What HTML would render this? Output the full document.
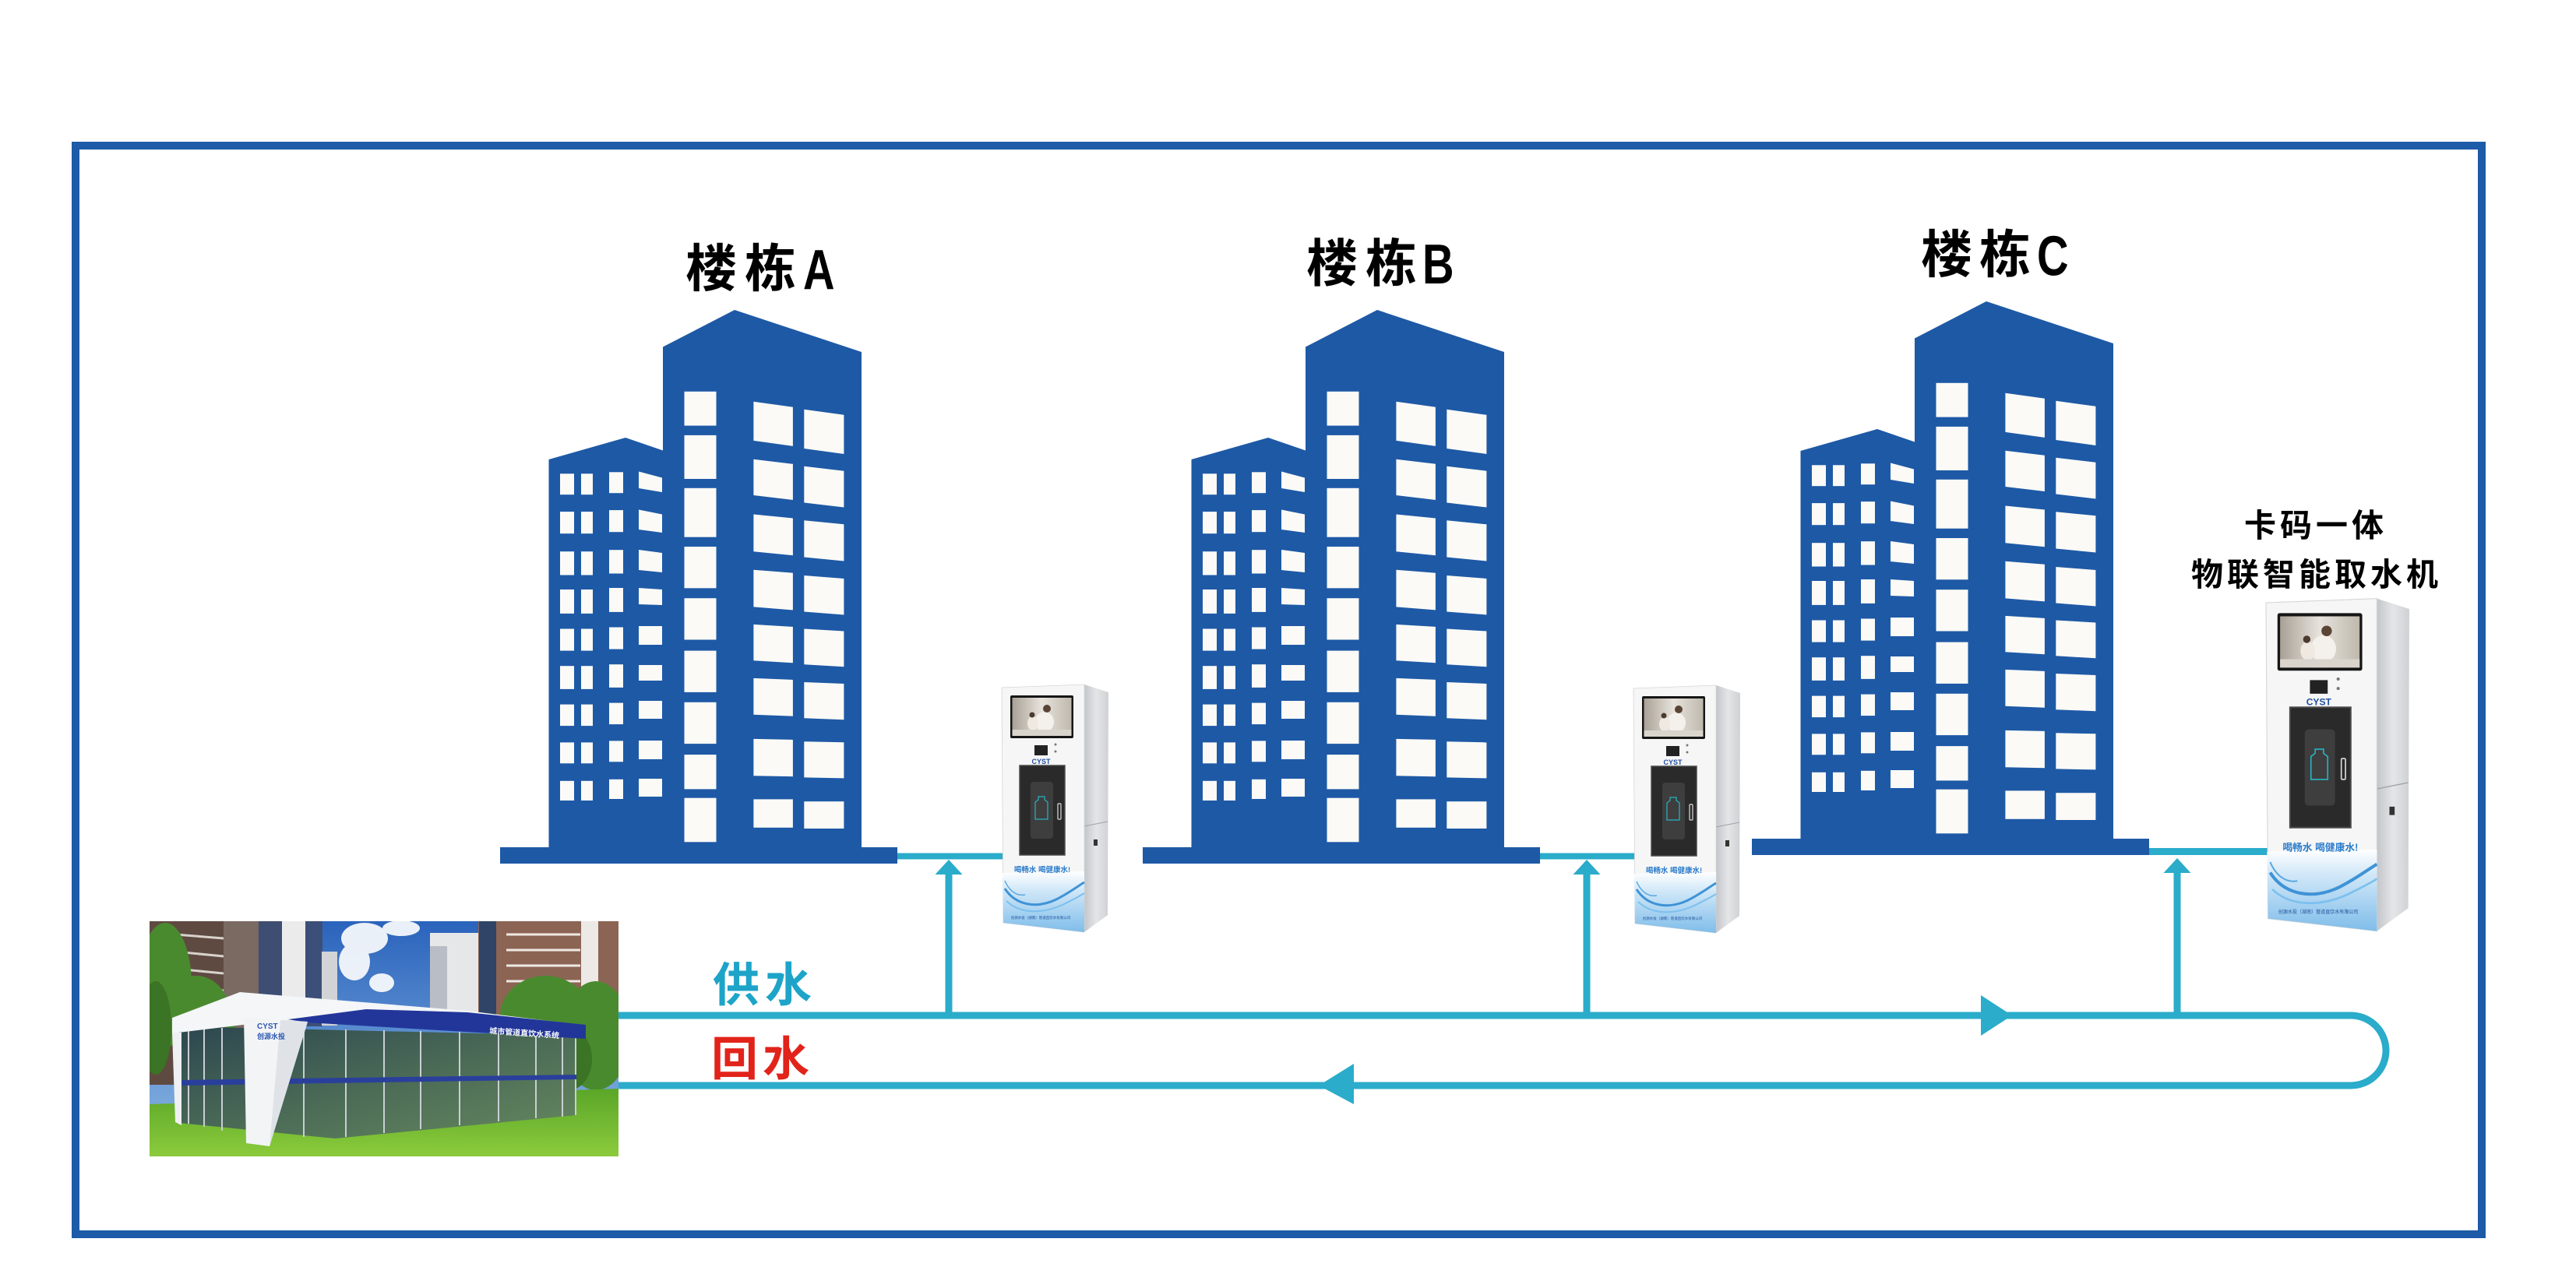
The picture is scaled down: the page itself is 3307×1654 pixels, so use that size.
<!DOCTYPE html>
<html>
<head>
<meta charset="utf-8">
<style>
html,body{margin:0;padding:0;background:#ffffff;}
svg{display:block;}
text{font-family:"Liberation Sans","Noto Sans CJK SC",sans-serif;}
.cjk{font-family:"Noto Sans CJK SC","WenQuanYi Zen Hei",sans-serif;}
</style>
</head>
<body>
<svg width="3307" height="1654" viewBox="0 0 3307 1654" xmlns="http://www.w3.org/2000/svg" xmlns:xlink="http://www.w3.org/1999/xlink">
<defs>
  <linearGradient id="side" x1="0" y1="0" x2="1" y2="0">
    <stop offset="0" stop-color="#c3c6ca"/>
    <stop offset="0.5" stop-color="#e4e5e7"/>
    <stop offset="1" stop-color="#cfd1d4"/>
  </linearGradient>
  <linearGradient id="water" x1="0" y1="0" x2="0" y2="1">
    <stop offset="0" stop-color="#ffffff"/>
    <stop offset="0.3" stop-color="#d2e8f8"/>
    <stop offset="1" stop-color="#7fbdea"/>
  </linearGradient>
  <linearGradient id="scr" x1="0" y1="0" x2="1" y2="0">
    <stop offset="0" stop-color="#a9a196"/>
    <stop offset="0.5" stop-color="#e7e3dc"/>
    <stop offset="1" stop-color="#bfb9ad"/>
  </linearGradient>
  <linearGradient id="sky" x1="0" y1="0" x2="0" y2="1">
    <stop offset="0" stop-color="#2a63bc"/>
    <stop offset="1" stop-color="#8fbbe4"/>
  </linearGradient>
  <linearGradient id="grass" x1="0" y1="0" x2="0" y2="1">
    <stop offset="0" stop-color="#5aa628"/>
    <stop offset="1" stop-color="#8ccb3c"/>
  </linearGradient>
  <linearGradient id="glass" x1="0" y1="0" x2="1" y2="1">
    <stop offset="0" stop-color="#2c4650"/>
    <stop offset="0.5" stop-color="#4a6a56"/>
    <stop offset="1" stop-color="#66885e"/>
  </linearGradient>
  <clipPath id="photoclip"><rect x="192" y="1183" width="602" height="302"/></clipPath>

  <g id="bld">
    <g fill="#1e59a6">
      <polygon points="704.5,1089 704.5,590 803,562 851,578.5 851,1089"/>
      <polygon points="851,1089 851,445.5 943,398 1106,452 1106,1089"/>
      <rect x="642" y="1088" width="510" height="21"/>
    </g>
    <g fill="#fbfaf6">
      <rect x="878.5" y="502.8" width="41" height="43.8"/>
      <rect x="878.5" y="558.9" width="41" height="56.1"/>
      <rect x="878.5" y="626.8" width="41" height="62.9"/>
      <rect x="878.5" y="702" width="41" height="53.3"/>
      <rect x="878.5" y="768.2" width="41" height="53.3"/>
      <rect x="878.5" y="835.6" width="41" height="53.3"/>
      <rect x="878.5" y="901.8" width="41" height="53.3"/>
      <rect x="878.5" y="969.1" width="41" height="44.3"/>
      <rect x="878.5" y="1024.7" width="41" height="56.6"/>
      <polygon points="967.4,515.7 1017.9,522.7 1017.9,572.9 967.4,565.9"/>
      <polygon points="967.4,589.8 1017.9,595.8 1017.9,642 967.4,636"/>
      <polygon points="967.4,660.5 1017.9,665.5 1017.9,713.2 967.4,708.2"/>
      <polygon points="967.4,731.7 1017.9,735.7 1017.9,783.4 967.4,779.4"/>
      <polygon points="967.4,801.9 1017.9,804.9 1017.9,851.3 967.4,848.3"/>
      <polygon points="967.4,870.9 1017.9,872.9 1017.9,919.7 967.4,917.7"/>
      <polygon points="967.4,948.9 1017.9,949.9 1017.9,997.2 967.4,996.2"/>
      <rect x="967.4" y="1026.4" width="50.5" height="36.4"/>
      <polygon points="1032.3,525.8 1083.4,532.8 1083.4,583 1032.3,576"/>
      <polygon points="1032.3,598.7 1083.4,604.7 1083.4,651.5 1032.3,645.5"/>
      <polygon points="1032.3,668.3 1083.4,673.3 1083.4,720.5 1032.3,715.5"/>
      <polygon points="1032.3,739 1083.4,743 1083.4,789.5 1032.3,785.5"/>
      <polygon points="1032.3,807.5 1083.4,810.5 1083.4,856.3 1032.3,853.3"/>
      <polygon points="1032.3,876 1083.4,878 1083.4,924.2 1032.3,922.2"/>
      <polygon points="1032.3,952.3 1083.4,953.3 1083.4,999.4 1032.3,998.4"/>
      <rect x="1032.3" y="1029.2" width="51.1" height="34.8"/>
      <rect x="719" y="608.3" width="18" height="26.9"/>
      <rect x="746" y="608.3" width="15" height="26.9"/>
      <rect x="782" y="606.3" width="18" height="26.9"/>
      <polygon points="820,605.5 850,613.5 850,632 820,627"/>
      <rect x="719" y="657.1" width="18" height="28.1"/>
      <rect x="746" y="657.1" width="15" height="28.1"/>
      <rect x="782" y="655.1" width="18" height="28.1"/>
      <polygon points="820,654.5 850,660.5 850,684 820,680"/>
      <rect x="719" y="708.2" width="18" height="30.3"/>
      <rect x="746" y="708.2" width="15" height="30.3"/>
      <rect x="782" y="706.2" width="18" height="30.3"/>
      <polygon points="820,706 850,710 850,735 820,732"/>
      <rect x="719" y="757" width="18" height="30.9"/>
      <rect x="746" y="757" width="15" height="30.9"/>
      <rect x="782" y="755" width="18" height="30.9"/>
      <polygon points="820,755 850,757 850,777 820,776"/>
      <rect x="719" y="807.5" width="18" height="28.1"/>
      <rect x="746" y="807.5" width="15" height="28.1"/>
      <rect x="782" y="805.5" width="18" height="28.1"/>
      <rect x="820" y="804" width="30" height="24"/>
      <rect x="719" y="855.2" width="18" height="29.7"/>
      <rect x="746" y="855.2" width="15" height="29.7"/>
      <rect x="782" y="853.2" width="18" height="29.7"/>
      <rect x="820" y="854" width="30" height="20"/>
      <rect x="719" y="904.6" width="18" height="27.5"/>
      <rect x="746" y="904.6" width="15" height="27.5"/>
      <rect x="782" y="902.6" width="18" height="27.5"/>
      <rect x="820" y="900" width="30" height="23"/>
      <rect x="719" y="953.4" width="18" height="26.9"/>
      <rect x="746" y="953.4" width="15" height="26.9"/>
      <rect x="782" y="951.4" width="18" height="26.9"/>
      <rect x="820" y="951" width="30" height="24"/>
      <rect x="719" y="1002.8" width="18" height="25.2"/>
      <rect x="746" y="1002.8" width="15" height="25.2"/>
      <rect x="782" y="1000.8" width="18" height="25.2"/>
      <rect x="820" y="1000" width="30" height="23"/>
    </g>
  </g>
</defs>

<rect x="97" y="187" width="3089" height="1398" fill="none" stroke="#1d5aa7" stroke-width="10"/>

<g fill="#2aacca">
  <rect x="1150" y="1095.5" width="140" height="8"/>
  <rect x="1975" y="1095.5" width="125" height="8"/>
  <rect x="2758" y="1089" width="156" height="9"/>
  <rect x="1213.5" y="1120" width="9" height="186"/>
  <rect x="2032.5" y="1120" width="9" height="186"/>
  <rect x="2790.5" y="1118" width="9" height="188"/>
  <polygon points="1218,1104 1200.5,1123 1235.5,1123"/>
  <polygon points="2037,1104 2019.5,1123 2054.5,1123"/>
  <polygon points="2795,1102 2777.5,1121 2812.5,1121"/>
  <polygon points="2543,1278 2543,1330 2583,1304"/>
  <polygon points="1738,1366 1738,1418 1693,1394"/>
</g>
<path d="M794,1304 H3018 A45,45 0 0 1 3018,1394 H794" fill="none" stroke="#2aacca" stroke-width="9"/>

<use xlink:href="#bld" href="#bld"/>
<use xlink:href="#bld" href="#bld" transform="translate(825,0)"/>
<use xlink:href="#bld" href="#bld" transform="translate(1607,-11)"/>

<g fill="#000" font-weight="700">
  <text class="cjk" x="880" y="368" font-size="66">楼</text>
  <text class="cjk" x="956" y="368" font-size="66">栋</text>
  <text transform="translate(1031,371) scale(0.78,1)" font-size="72" font-family="Liberation Sans, sans-serif">A</text>
  <text class="cjk" x="1677" y="361.5" font-size="66">楼</text>
  <text class="cjk" x="1753" y="361.5" font-size="66">栋</text>
  <text transform="translate(1826,364) scale(0.78,1)" font-size="72" font-family="Liberation Sans, sans-serif">B</text>
  <text class="cjk" x="2466" y="350" font-size="66">楼</text>
  <text class="cjk" x="2541" y="350" font-size="66">栋</text>
  <text transform="translate(2615,353.5) scale(0.78,1)" font-size="72" font-family="Liberation Sans, sans-serif">C</text>
  <text class="cjk" x="2881" y="689" font-size="41" letter-spacing="5">卡码一体</text>
  <text class="cjk" x="2813" y="752" font-size="41" letter-spacing="5">物联智能取水机</text>
  <text class="cjk" x="915" y="1286" font-size="60" letter-spacing="7" fill="#1ea4c8">供水</text>
  <text class="cjk" x="913" y="1381" font-size="60" letter-spacing="6" fill="#e2231a">回水</text>
</g>

<g transform="translate(1286,883)">
  <polygon points="106,-4 137,6 136,292 106,314" fill="url(#side)"/>
  <line x1="106" y1="178" x2="136" y2="172" stroke="#9fa2a6" stroke-width="1"/>
  <rect x="118" y="195" width="5" height="8" fill="#333"/>
  <polygon points="0,0 106,-4 106,314 2,302" fill="#f6f6f6" stroke="#d6d6d6" stroke-width="0.8"/>
  <polygon points="1,238 106,236 106,314 2,302" fill="url(#water)"/>
  <path d="M4,258 C18,280 45,284 70,272 C86,264 96,256 106,250" stroke="#3f93d6" stroke-width="3" fill="none"/>
  <path d="M6,274 C25,292 55,290 80,278 C92,272 100,268 106,264" stroke="#7cc0ee" stroke-width="2" fill="none"/>
  <path d="M4,248 C10,262 20,268 30,266" stroke="#5aa8e0" stroke-width="1.5" fill="none"/>
  <rect x="11" y="10" width="81" height="55" rx="2" fill="#161616"/>
  <rect x="13.5" y="13" width="76" height="49" fill="url(#scr)"/>
  <ellipse cx="55" cy="44" rx="12" ry="13" fill="#f4f1ec"/>
  <circle cx="58" cy="27" r="5" fill="#5a4436"/>
  <ellipse cx="40" cy="46" rx="7" ry="9" fill="#efe9e2"/>
  <circle cx="39" cy="35" r="3.5" fill="#4a3a30"/>
  <rect x="13.5" y="54" width="76" height="8" fill="#d9d4cc"/>
  <rect x="42" y="74" width="17" height="13" fill="#222"/>
  <circle cx="69" cy="73" r="1.5" fill="#777"/>
  <circle cx="69" cy="82" r="1.5" fill="#777"/>
  <text x="50.5" y="98" font-size="9" font-weight="700" fill="#1f4f9f" text-anchor="middle">CYST</text>
  <rect x="23" y="100" width="58" height="115" fill="#2a2a2a" stroke="#4a4a4a" stroke-width="1.5"/>
  <rect x="37" y="121" width="29" height="73" rx="4" fill="#3e3e3e"/>
  <path d="M47,140 h8 v4 l4,3 v22 h-16 v-22 l4,-3z" fill="none" stroke="#27b3c2" stroke-width="1.2"/>
  <rect x="72" y="149" width="4" height="20" rx="1" fill="none" stroke="#dddddd" stroke-width="1.2"/>
  <text x="52" y="237" font-size="9.5" font-weight="700" fill="#2a7ccc" text-anchor="middle">喝畅水 喝健康水!</text>
  <text x="50" y="297" font-size="4.5" fill="#1e4f9a" text-anchor="middle">创源水投（湖南）管道直饮水有限公司</text>
</g>
<g transform="translate(2097,884)">
  <polygon points="106,-4 137,6 136,292 106,314" fill="url(#side)"/>
  <line x1="106" y1="178" x2="136" y2="172" stroke="#9fa2a6" stroke-width="1"/>
  <rect x="118" y="195" width="5" height="8" fill="#333"/>
  <polygon points="0,0 106,-4 106,314 2,302" fill="#f6f6f6" stroke="#d6d6d6" stroke-width="0.8"/>
  <polygon points="1,238 106,236 106,314 2,302" fill="url(#water)"/>
  <path d="M4,258 C18,280 45,284 70,272 C86,264 96,256 106,250" stroke="#3f93d6" stroke-width="3" fill="none"/>
  <path d="M6,274 C25,292 55,290 80,278 C92,272 100,268 106,264" stroke="#7cc0ee" stroke-width="2" fill="none"/>
  <path d="M4,248 C10,262 20,268 30,266" stroke="#5aa8e0" stroke-width="1.5" fill="none"/>
  <rect x="11" y="10" width="81" height="55" rx="2" fill="#161616"/>
  <rect x="13.5" y="13" width="76" height="49" fill="url(#scr)"/>
  <ellipse cx="55" cy="44" rx="12" ry="13" fill="#f4f1ec"/>
  <circle cx="58" cy="27" r="5" fill="#5a4436"/>
  <ellipse cx="40" cy="46" rx="7" ry="9" fill="#efe9e2"/>
  <circle cx="39" cy="35" r="3.5" fill="#4a3a30"/>
  <rect x="13.5" y="54" width="76" height="8" fill="#d9d4cc"/>
  <rect x="42" y="74" width="17" height="13" fill="#222"/>
  <circle cx="69" cy="73" r="1.5" fill="#777"/>
  <circle cx="69" cy="82" r="1.5" fill="#777"/>
  <text x="50.5" y="98" font-size="9" font-weight="700" fill="#1f4f9f" text-anchor="middle">CYST</text>
  <rect x="23" y="100" width="58" height="115" fill="#2a2a2a" stroke="#4a4a4a" stroke-width="1.5"/>
  <rect x="37" y="121" width="29" height="73" rx="4" fill="#3e3e3e"/>
  <path d="M47,140 h8 v4 l4,3 v22 h-16 v-22 l4,-3z" fill="none" stroke="#27b3c2" stroke-width="1.2"/>
  <rect x="72" y="149" width="4" height="20" rx="1" fill="none" stroke="#dddddd" stroke-width="1.2"/>
  <text x="52" y="237" font-size="9.5" font-weight="700" fill="#2a7ccc" text-anchor="middle">喝畅水 喝健康水!</text>
  <text x="50" y="297" font-size="4.5" fill="#1e4f9a" text-anchor="middle">创源水投（湖南）管道直饮水有限公司</text>
</g>
<g transform="translate(2909,774) scale(1.343)">
  <polygon points="106,-4 137,6 136,292 106,314" fill="url(#side)"/>
  <line x1="106" y1="178" x2="136" y2="172" stroke="#9fa2a6" stroke-width="1"/>
  <rect x="118" y="195" width="5" height="8" fill="#333"/>
  <polygon points="0,0 106,-4 106,314 2,302" fill="#f6f6f6" stroke="#d6d6d6" stroke-width="0.8"/>
  <polygon points="1,238 106,236 106,314 2,302" fill="url(#water)"/>
  <path d="M4,258 C18,280 45,284 70,272 C86,264 96,256 106,250" stroke="#3f93d6" stroke-width="3" fill="none"/>
  <path d="M6,274 C25,292 55,290 80,278 C92,272 100,268 106,264" stroke="#7cc0ee" stroke-width="2" fill="none"/>
  <path d="M4,248 C10,262 20,268 30,266" stroke="#5aa8e0" stroke-width="1.5" fill="none"/>
  <rect x="11" y="10" width="81" height="55" rx="2" fill="#161616"/>
  <rect x="13.5" y="13" width="76" height="49" fill="url(#scr)"/>
  <ellipse cx="55" cy="44" rx="12" ry="13" fill="#f4f1ec"/>
  <circle cx="58" cy="27" r="5" fill="#5a4436"/>
  <ellipse cx="40" cy="46" rx="7" ry="9" fill="#efe9e2"/>
  <circle cx="39" cy="35" r="3.5" fill="#4a3a30"/>
  <rect x="13.5" y="54" width="76" height="8" fill="#d9d4cc"/>
  <rect x="42" y="74" width="17" height="13" fill="#222"/>
  <circle cx="69" cy="73" r="1.5" fill="#777"/>
  <circle cx="69" cy="82" r="1.5" fill="#777"/>
  <text x="50.5" y="98" font-size="9" font-weight="700" fill="#1f4f9f" text-anchor="middle">CYST</text>
  <rect x="23" y="100" width="58" height="115" fill="#2a2a2a" stroke="#4a4a4a" stroke-width="1.5"/>
  <rect x="37" y="121" width="29" height="73" rx="4" fill="#3e3e3e"/>
  <path d="M47,140 h8 v4 l4,3 v22 h-16 v-22 l4,-3z" fill="none" stroke="#27b3c2" stroke-width="1.2"/>
  <rect x="72" y="149" width="4" height="20" rx="1" fill="none" stroke="#dddddd" stroke-width="1.2"/>
  <text x="52" y="237" font-size="9.5" font-weight="700" fill="#2a7ccc" text-anchor="middle">喝畅水 喝健康水!</text>
  <text x="50" y="297" font-size="4.5" fill="#1e4f9a" text-anchor="middle">创源水投（湖南）管道直饮水有限公司</text>
</g>

<g clip-path="url(#photoclip)">
  <rect x="192" y="1183" width="602" height="302" fill="url(#sky)"/>
  <g fill="#ffffff" opacity="0.9">
    <ellipse cx="468" cy="1205" rx="30" ry="20"/>
    <ellipse cx="455" cy="1235" rx="20" ry="24"/>
    <ellipse cx="490" cy="1262" rx="16" ry="12"/>
    <ellipse cx="515" cy="1192" rx="24" ry="10"/>
  </g>
  <rect x="192" y="1183" width="95" height="210" fill="#5f4a42"/>
  <g stroke="#d8d2cc" stroke-width="3">
    <line x1="225" y1="1200" x2="287" y2="1205"/>
    <line x1="225" y1="1222" x2="287" y2="1228"/>
    <line x1="225" y1="1244" x2="287" y2="1250"/>
    <line x1="225" y1="1266" x2="287" y2="1272"/>
  </g>
  <rect x="287" y="1183" width="45" height="140" fill="#7a6a62"/>
  <rect x="332" y="1183" width="30" height="150" fill="#3e4e72"/>
  <rect x="362" y="1183" width="30" height="140" fill="#ebebec"/>
  <rect x="392" y="1183" width="22" height="135" fill="#3c4f78"/>
  <rect x="413" y="1222" width="20" height="95" fill="#d2d3d6"/>
  <rect x="552" y="1198" width="62" height="105" fill="#e6e7e9"/>
  <rect x="552" y="1215" width="22" height="90" fill="#b9bec6"/>
  <rect x="614" y="1183" width="180" height="120" fill="#8c6454"/>
  <g stroke="#efe9e4" stroke-width="3">
    <line x1="650" y1="1200" x2="745" y2="1200"/>
    <line x1="650" y1="1220" x2="745" y2="1220"/>
    <line x1="650" y1="1240" x2="745" y2="1240"/>
    <line x1="650" y1="1260" x2="745" y2="1260"/>
  </g>
  <rect x="615" y="1183" width="22" height="120" fill="#2f4466"/>
  <rect x="746" y="1183" width="22" height="130" fill="#ece9e6"/>
  <g fill="#4a8a2e">
    <ellipse cx="212" cy="1265" rx="34" ry="80"/>
    <ellipse cx="252" cy="1305" rx="44" ry="52"/>
    <ellipse cx="280" cy="1345" rx="30" ry="40"/>
    <ellipse cx="700" cy="1305" rx="58" ry="52"/>
    <ellipse cx="765" cy="1330" rx="44" ry="70"/>
    <ellipse cx="655" cy="1345" rx="32" ry="32"/>
  </g>
  <g fill="#3b7424">
    <ellipse cx="200" cy="1320" rx="20" ry="60"/>
    <ellipse cx="730" cy="1360" rx="30" ry="40"/>
  </g>
  <polygon points="192,1418 794,1398 794,1485 192,1485" fill="url(#grass)"/>
  <polygon points="230,1318 740,1330 740,1432 430,1462 230,1442" fill="url(#glass)"/>
  <g stroke="#c9ced3" stroke-width="2">
    <line x1="242" y1="1320" x2="242" y2="1443"/>
    <line x1="262" y1="1320" x2="262" y2="1447"/>
    <line x1="285" y1="1320" x2="285" y2="1452"/>
    <line x1="390" y1="1320" x2="390" y2="1460"/>
    <line x1="444" y1="1322" x2="444" y2="1460"/>
    <line x1="493" y1="1323" x2="493" y2="1455"/>
    <line x1="540" y1="1324" x2="540" y2="1450"/>
    <line x1="590" y1="1325" x2="590" y2="1445"/>
    <line x1="640" y1="1327" x2="640" y2="1440"/>
    <line x1="688" y1="1328" x2="688" y2="1436"/>
    <line x1="722" y1="1329" x2="722" y2="1434"/>
    <line x1="739" y1="1330" x2="739" y2="1432"/>
  </g>
  <polygon points="230,1387 740,1380 740,1386 230,1394" fill="#2a3f9c"/>
  <polygon points="221,1307 308,1274 600,1298 745,1316 370,1309 221,1327" fill="#f4f6f8"/>
  <polygon points="370,1309 470,1296 600,1300 752,1316 752,1334 393,1313" fill="#22369a"/>
  <polygon points="313,1306 395,1312 346,1472 316,1468" fill="#f3f4f6"/>
  <polygon points="360,1310 395,1312 346,1472" fill="#dfe3e8"/>
  <polygon points="221,1326 233,1326 233,1445 225,1441" fill="#eef0f2"/>
  <text x="628" y="1327" font-size="10" font-weight="700" fill="#ffffff" transform="rotate(4 628 1327)">城市管道直饮水系统</text>
  <text x="330" y="1321" font-size="10" font-weight="700" fill="#2a56b0">CYST</text>
  <text x="330" y="1334" font-size="9" font-weight="700" fill="#2a56b0">创源水投</text>
</g>
</svg>
</body>
</html>
